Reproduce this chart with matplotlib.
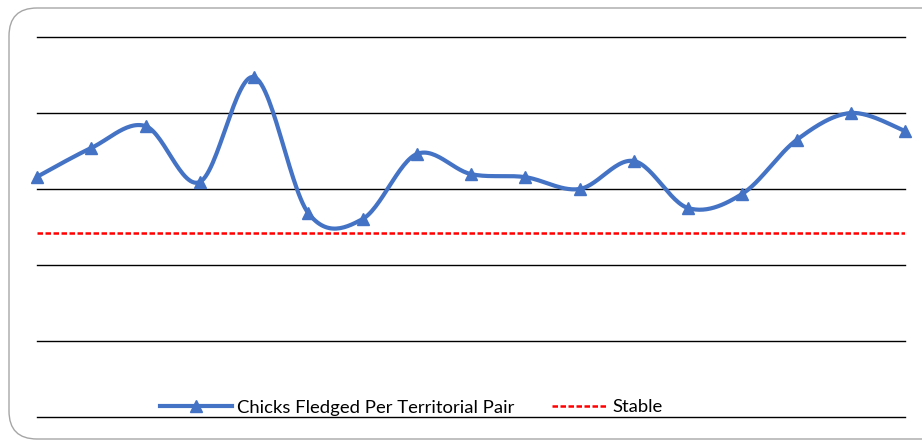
import numpy as np
import matplotlib
matplotlib.use('Agg')
import matplotlib.pyplot as plt
from matplotlib.patches import FancyBboxPatch
from matplotlib.lines import Line2D
from matplotlib.transforms import IdentityTransform

plt.rcParams['font.family'] = ['Lato', 'DejaVu Sans']

# chicks fledged per territorial pair, one value per year (17 years)
years = np.arange(1, 18)
chicks = [0.79, 0.885, 0.957, 0.773, 1.118, 0.671, 0.651, 0.865, 0.799,
          0.789, 0.75, 0.842, 0.6875, 0.734, 0.911, 1.0, 0.941]
stable = 0.605
grid_ticks = [0, 0.25, 0.5, 0.75, 1.0, 1.25]

BLUE = '#4472C4'
RED = '#FF0000'
FS = 13.3
DASH = (0, (2.2, 1.0))


def smooth(x, y, n=30):
    # Excel-style smoothed line: bezier segments, control points from neighbours
    x = np.asarray(x, float)
    y = np.asarray(y, float)
    px = np.concatenate([[x[0]], x, [x[-1]]])
    py = np.concatenate([[y[0]], y, [y[-1]]])
    xs, ys = [], []
    t = np.linspace(0, 1, n)
    for i in range(len(x) - 1):
        p0 = np.array([px[i + 1], py[i + 1]])
        p3 = np.array([px[i + 2], py[i + 2]])
        c1 = p0 + (p3 - np.array([px[i], py[i]])) / 6
        c2 = p3 - (np.array([px[i + 3], py[i + 3]]) - p0) / 6
        b = ((1 - t) ** 3)[:, None] * p0 + (3 * (1 - t) ** 2 * t)[:, None] * c1 \
            + (3 * (1 - t) * t ** 2)[:, None] * c2 + (t ** 3)[:, None] * p3
        xs.extend(b[:, 0])
        ys.extend(b[:, 1])
    return np.array(xs), np.array(ys)


fig = plt.figure(figsize=(9.22, 4.42), dpi=100)

# rounded chart border
frame = FancyBboxPatch((9, 3), 960, 431, boxstyle='round,pad=0,rounding_size=28',
                       transform=IdentityTransform(), facecolor='white',
                       edgecolor='#a6a6a6', linewidth=1.0, zorder=-5)
fig.patches.append(frame)

ax = fig.add_axes([37 / 922, 25 / 442, 868 / 922, 380 / 442])
ax.set_zorder(1)
ax.set_facecolor('none')
ax.set_xlim(1, 17)
ax.set_ylim(0, 1.25)
ax.set_yticks(grid_ticks)
ax.yaxis.grid(True, color='black', linewidth=1.0)
for gl in ax.get_ygridlines():
    gl.set_clip_on(False)
ax.tick_params(left=False, bottom=False, labelleft=False, labelbottom=False)
for s in ax.spines.values():
    s.set_visible(False)
ax.set_axisbelow(True)

ax.axhline(stable, color=RED, linestyle=DASH, linewidth=1.8, zorder=2)

sx, sy = smooth(years, chicks)
ax.plot(sx, sy, color=BLUE, linewidth=3.0, zorder=3, clip_on=False,
        solid_capstyle='round')
ax.plot(years, chicks, linestyle='none', marker='^', markersize=9,
        color=BLUE, zorder=4, clip_on=False)

em = FS * 100 / 72
ly = 1 - 407.5 / 442
h1 = Line2D([], [], color=BLUE, linewidth=3.0, marker='^', markersize=9)
h2 = Line2D([], [], color=RED, linestyle=DASH, linewidth=1.8)
leg1 = fig.legend([h1], ['Chicks Fledged Per Territorial Pair'], loc='center left',
                  bbox_to_anchor=(160 / 922, ly), frameon=False, fontsize=FS,
                  handlelength=72 / em, handletextpad=5 / em, borderpad=0,
                  borderaxespad=0)
leg2 = fig.legend([h2], ['Stable'], loc='center left',
                  bbox_to_anchor=(552 / 922, ly), frameon=False, fontsize=FS,
                  handlelength=55 / em, handletextpad=5 / em, borderpad=0,
                  borderaxespad=0)

fig.savefig('out.png', dpi=100)
